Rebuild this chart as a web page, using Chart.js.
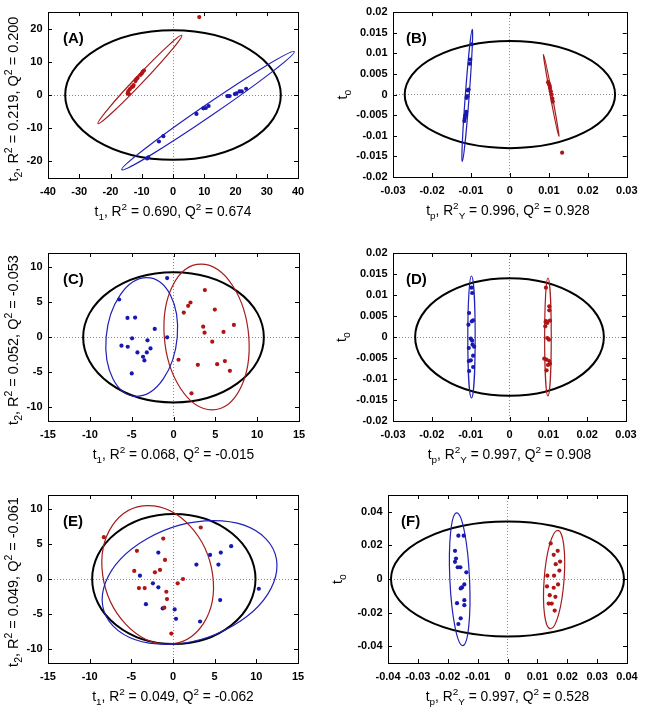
<!DOCTYPE html>
<html><head><meta charset="utf-8">
<script src="https://cdn.jsdelivr.net/npm/chart.js@4"></script>
<style>
body{margin:0;background:#fff;width:645px;height:713px;position:relative;overflow:hidden}
canvas{position:absolute}
</style></head>
<body>
<canvas id="cA"></canvas><canvas id="cB"></canvas><canvas id="cC"></canvas>
<canvas id="cD"></canvas><canvas id="cE"></canvas><canvas id="cF"></canvas>
<script>
// ---------- DATA ----------
// Panel A (PCA scores)
const aRed = [[-14.5,0.5],[-14.3,1.2],[-14.1,0.3],[-13.8,1.8],[-13.2,2.4],[-12.8,2.6],[-12.6,3.0],[-12.0,4.2],[-11.7,4.8],[-11.3,5.2],[-10.4,6.1],[-10.0,6.5],[-9.7,7.0],[-9.3,7.4],[8.4,23.5]];
const aBlue = [[7.5,-5.7],[9.7,-4.0],[10.5,-3.9],[11.4,-3.3],[17.4,-0.3],[18.1,-0.3],[19.8,0.3],[20.3,0.5],[21.3,1.1],[22.0,1.1],[23.4,1.9],[-3.1,-12.4],[-4.5,-14.0],[-7.9,-18.8],[-8.3,-19.1]];
const aXTicks = [-40,-30,-20,-10,0,10,20,30,40];
const aYTicks = [-20,-10,0,10,20];
// ellipse = [centerX, centerY, semiDiameterU_x, U_y, conjugateV_x, V_y]
const aEllAll  = [0,0,34.5,0,0,19.5];
const aEllRed  = [-10.6,4.7,13.4,13.3,0.94,-0.81];
const aEllBlue = [11.2,-4.7,27.6,17.8,1.09,-1.48];

// Panel B (OPLS-DA scores)
const bRed = [[0.0098,0.0030],[0.0100,0.0026],[0.0102,0.0022],[0.0103,0.0016],[0.0105,0.0008],[0.0107,0.0],[0.0109,-0.0010],[0.0110,-0.0017],[0.0134,-0.0141]];
const bBlue = [[-0.0098,0.0122],[-0.0102,0.0085],[-0.0103,0.0075],[-0.0106,0.0012],[-0.0108,0.0010],[-0.0110,-0.0004],[-0.0111,-0.0008],[-0.0112,-0.0042],[-0.0113,-0.0048],[-0.0115,-0.0052],[-0.0116,-0.0058],[-0.0117,-0.0064]];
const bXTicks = [-0.03,-0.02,-0.01,0,0.01,0.02,0.03];
const bYTicks = [-0.02,-0.015,-0.01,-0.005,0,0.005,0.01,0.015,0.02];
const bEllAll  = [0,0,0.027,0,0,0.013];
const bEllRed  = [0.0106,-0.0002,-0.00197,0.00992,0.00025,0];
const bEllBlue = [-0.01094,-0.0002,0.00128,0.016,0.0005,0];

// Panel C
const cRed = [[3.75,6.70],[2.03,4.93],[1.75,4.45],[1.23,3.49],[4.94,3.92],[3.55,1.48],[3.71,0.62],[7.22,1.72],[5.98,0.72],[4.63,-0.67],[0.60,-3.25],[2.91,-3.97],[5.22,-3.88],[6.14,-3.44],[6.74,-4.83],[2.15,-8.04]];
const cBlue = [[-6.5,5.36],[-5.5,2.73],[-4.59,2.78],[-2.24,1.15],[-0.76,8.42],[-0.76,-0.05],[-4.95,-0.19],[-6.22,-1.24],[-5.47,-1.39],[-3.11,-0.48],[-4.31,-2.20],[-2.75,-1.63],[-3.19,-2.20],[-3.64,-2.82],[-3.48,-3.35],[-4.99,-5.21]];
const cXTicks = [-15,-10,-5,0,5,10,15];
const cYTicks = [-10,-5,0,5,10];
const cEllAll  = [0,-0.05,10.8,0,0,9.3];
const cEllRed  = [3.95,0,-0.66,10.4,5.05,0];
const cEllBlue = [-3.8,0,0.6,8.47,4.25,0];

// Panel D
const dRed = [[0.00938,0.01175],[0.01024,0.0073],[0.01024,0.00635],[0.00938,0.00381],[0.01041,0.00389],[0.00972,0.00333],[0.00921,0.00254],[0.0093,0.0036],[0.00972,-0.00024],[0.01016,-0.00063],[0.00895,-0.00516],[0.00955,-0.0054],[0.01024,-0.00571],[0.01041,-0.00635],[0.0099,-0.00667],[0.00955,-0.00794]];
const dBlue = [[-0.00979,0.01175],[-0.00962,0.01048],[-0.0104,0.00571],[-0.00937,0.00397],[-0.0097,0.00373],[-0.01057,0.00294],[-0.00996,-0.0004],[-0.00962,-0.00087],[-0.00953,-0.00183],[-0.00911,-0.0023],[-0.01048,-0.00262],[-0.00937,-0.00444],[-0.00996,-0.00556],[-0.01048,-0.00571],[-0.00937,-0.00714],[-0.0104,-0.0081]];
const dXTicks = [-0.03,-0.02,-0.01,0,0.01,0.02,0.03];
const dYTicks = [-0.02,-0.015,-0.01,-0.005,0,0.005,0.01,0.015,0.02];
const dEllAll  = [0,0,0.0243,0,0,0.014];
const dEllRed  = [0.0099,0,0,0.01405,0.00085,0];
const dEllBlue = [-0.00979,0,0,0.01452,0.00095,0];

// Panel E
const eRed = [[-8.3,5.98],[-1.17,5.78],[3.33,7.36],[-4.33,4.02],[-0.96,2.73],[-4.65,1.15],[-2.17,0.96],[-1.56,1.29],[1.2,0],[0.56,-0.62],[-4.09,-1.29],[-3.4,-1.29],[-0.8,-1.82],[-0.72,-2.87],[-1.04,-4.1],[-0.2,-7.8]];
const eBlue = [[6.98,4.69],[5.74,3.78],[4.45,3.44],[2.81,2.06],[5.45,2.06],[-1.76,3.78],[-3.97,0.48],[-2.41,-0.62],[-1.76,-1.19],[5.66,-3.01],[-3.25,-3.59],[-1.24,-4.2],[0.2,-4.35],[0.36,-5.69],[3.25,-6.07],[10.3,-1.39]];
const eXTicks = [-15,-10,-5,0,5,10,15];
const eYTicks = [-10,-5,0,5,10];
const eEllAll  = [0.1,0,9.8,0,0,9.3];
const eEllRed  = [-1.84,0.58,-1.13,9.9,6.6,0];
const eEllBlue = [1.99,-0.5,2.87,8.83,10.09,0];

// Panel F
const fRed = [[0.01446,0.0212],[0.01681,0.0168],[0.01547,0.0144],[0.01614,0.0088],[0.01759,0.0104],[0.01737,0.005],[0.01335,0.002],[0.01558,0.002],[0.01692,-0.0032],[0.01323,-0.0044],[0.01547,-0.0052],[0.01413,-0.0096],[0.01603,-0.0106],[0.01379,-0.0146],[0.0148,-0.0146],[0.0158,-0.0188]];
const fBlue = [[-0.01645,0.0258],[-0.01467,0.0258],[-0.01757,0.0168],[-0.01724,0.0122],[-0.01757,0.0102],[-0.01667,0.007],[-0.01578,0.007],[-0.01378,0.004],[-0.01445,-0.0032],[-0.01523,-0.005],[-0.01567,-0.0056],[-0.01445,-0.0126],[-0.01445,-0.0156],[-0.0169,-0.0144],[-0.01567,-0.0234],[-0.01645,-0.0268]];
const fXTicks = [-0.04,-0.03,-0.02,-0.01,0,0.01,0.02,0.03,0.04];
const fYTicks = [-0.04,-0.02,0,0.02,0.04];
const fEllAll  = [0,0,0.039,0,0,0.0342];
const fEllRed  = [0.0156,-0.0003,0.0012,0.0293,0.00334,0];
const fEllBlue = [-0.016,-0.0001,-0.001,0.0395,0.0033,0];

// Labels (gnuplot-style enhanced text: _{sub}, ^{sup})
const panelLabels = ['(A)','(B)','(C)','(D)','(E)','(F)'];
const xTitles = [
  't_{1}, R^{2} = 0.690, Q^{2} = 0.674',
  't_{p}, R^{2}_{Y} = 0.996, Q^{2} = 0.928',
  't_{1}, R^{2} = 0.068, Q^{2} = -0.015',
  't_{p}, R^{2}_{Y} = 0.997, Q^{2} = 0.908',
  't_{1}, R^{2} = 0.049, Q^{2} = -0.062',
  't_{p}, R^{2}_{Y} = 0.997, Q^{2} = 0.528'];
const yTitles = [
  't_{2}, R^{2} = 0.219, Q^{2} = 0.200',
  't_{o}',
  't_{2}, R^{2} = 0.052, Q^{2} = -0.053',
  't_{o}',
  't_{2}, R^{2} = 0.049, Q^{2} = -0.061',
  't_{o}'];

// ---------- STYLE / LAYOUT ----------
const RED = '#b01414', BLUE = '#1818b0';
const RED_L = '#a51c1c', BLUE_L = '#2020b8';
const FONT = '"Liberation Sans", Arial, Helvetica, sans-serif';

function parseRich(s){
  const runs=[]; let i=0, buf='';
  while(i<s.length){
    const c=s[i];
    if((c==='_'||c==='^') && s[i+1]==='{'){
      if(buf){runs.push([buf,0]);buf='';}
      const j=s.indexOf('}',i);
      runs.push([s.slice(i+2,j), c==='_'?1:-1]);
      i=j+1;
    } else {buf+=c;i++;}
  }
  if(buf) runs.push([buf,0]);
  return runs;
}
function drawRich(ctx, str, size){
  const runs=parseRich(str), small=size*0.72;
  let w=0; const ws=[];
  runs.forEach(([t,k])=>{ctx.font=(k?small:size)+'px '+FONT; const m=ctx.measureText(t).width; ws.push(m); w+=m;});
  let x=-w/2;
  ctx.textBaseline='alphabetic'; ctx.textAlign='left'; ctx.fillStyle='#000';
  runs.forEach(([t,k],i)=>{
    ctx.font=(k?small:size)+'px '+FONT;
    const dy = k===1 ? size*0.3 : (k===-1 ? -size*0.4 : 0);
    ctx.fillText(t,x,dy); x+=ws[i];
  });
  return w;
}

const decor = {
  id:'decor',
  beforeDatasetsDraw(chart){
    const o=chart.options.plugins.decor, ctx=chart.ctx, xs=chart.scales.x, ys=chart.scales.y;
    o.ellipses.forEach(el=>{
      const [cx,cy,ux,uy,vx,vy]=el.d;
      const px=xs.getPixelForValue(cx), py=ys.getPixelForValue(cy);
      const Ux=xs.getPixelForValue(cx+ux)-px, Uy=ys.getPixelForValue(cy+uy)-py;
      const Vx=xs.getPixelForValue(cx+vx)-px, Vy=ys.getPixelForValue(cy+vy)-py;
      ctx.save();
      ctx.beginPath();
      ctx.save(); ctx.transform(Ux,Uy,Vx,Vy,px,py); ctx.moveTo(1,0); ctx.arc(0,0,1,0,Math.PI*2); ctx.restore();
      ctx.strokeStyle=el.color; ctx.lineWidth=el.width; ctx.stroke();
      ctx.restore();
    });
  },
  afterDraw(chart){
    const o=chart.options.plugins.decor, ctx=chart.ctx, a=chart.chartArea, xs=chart.scales.x, ys=chart.scales.y;
    ctx.save();
    ctx.strokeStyle='#000'; ctx.lineWidth=1;
    ctx.strokeRect(Math.round(a.left)+0.5, Math.round(a.top)+0.5, Math.round(a.right-a.left), Math.round(a.bottom-a.top));
    const L=4;
    ctx.beginPath();
    xs.ticks.forEach(t=>{const p=Math.round(xs.getPixelForValue(t.value))+0.5; ctx.moveTo(p,a.bottom); ctx.lineTo(p,a.bottom-L); ctx.moveTo(p,a.top); ctx.lineTo(p,a.top+L);});
    ys.ticks.forEach(t=>{const p=Math.round(ys.getPixelForValue(t.value))+0.5; ctx.moveTo(a.left,p); ctx.lineTo(a.left+L,p); ctx.moveTo(a.right,p); ctx.lineTo(a.right-L,p);});
    ctx.stroke();
    // panel label
    ctx.font='bold 15px '+FONT; ctx.fillStyle='#000'; ctx.textBaseline='alphabetic'; ctx.textAlign='left';
    ctx.fillText(o.label, a.left+o.labDx, a.top+31);
    // x title
    ctx.save(); ctx.translate((a.left+a.right)/2+o.xtDx, a.bottom+37.5); drawRich(ctx,o.xTitle,13.8); ctx.restore();
    // y title
    ctx.save(); ctx.translate(o.ytX, (a.top+a.bottom)/2+o.ytDy); ctx.rotate(-Math.PI/2); drawRich(ctx,o.yTitle,14.5); ctx.restore();
    ctx.restore();
  }
};

const panels = [
  {id:'cA',left:0,  top:0,  w:320,h:230,padT:11,padR:22,yW:48,xH:52,xMin:-40,xMax:40,yMin:-25,yMax:25,xT:aXTicks,yT:aYTicks,red:aRed,blue:aBlue,ell:[aEllAll,aEllRed,aEllBlue],xPad:7.5,xtDx:0,ytX:18,ytDy:4,labDx:15},
  {id:'cB',left:320,top:0,  w:325,h:230,padT:11,padR:18,yW:73,xH:53,xMin:-0.03,xMax:0.03,yMin:-0.02,yMax:0.02,xT:bXTicks,yT:bYTicks,red:bRed,blue:bBlue,ell:[bEllAll,bEllRed,bEllBlue],xPad:7.5,xtDx:-2,ytX:27,ytDy:0,labDx:13},
  {id:'cC',left:0,  top:230,w:320,h:240,padT:23,padR:21,yW:48,xH:49,xMin:-15,xMax:15,yMin:-12,yMax:12,xT:cXTicks,yT:cYTicks,red:cRed,blue:cBlue,ell:[cEllAll,cEllRed,cEllBlue],xPad:7,xtDx:0,ytX:18,ytDy:3,labDx:15},
  {id:'cD',left:320,top:230,w:325,h:240,padT:23,padR:19,yW:73,xH:49,xMin:-0.03,xMax:0.03,yMin:-0.02,yMax:0.02,xT:dXTicks,yT:dYTicks,red:dRed,blue:dBlue,ell:[dEllAll,dEllRed,dEllBlue],xPad:7,xtDx:0,ytX:26,ytDy:0,labDx:13},
  {id:'cE',left:0,  top:470,w:320,h:243,padT:25,padR:22,yW:48,xH:50,xMin:-15,xMax:15,yMin:-12,yMax:12,xT:eXTicks,yT:eYTicks,red:eRed,blue:eBlue,ell:[eEllAll,eEllRed,eEllBlue],xPad:7,xtDx:0,ytX:18,ytDy:3,labDx:15},
  {id:'cF',left:320,top:470,w:325,h:243,padT:25,padR:18,yW:68,xH:50,xMin:-0.04,xMax:0.04,yMin:-0.05,yMax:0.05,xT:fXTicks,yT:fYTicks,red:fRed,blue:fBlue,ell:[fEllAll,fEllRed,fEllBlue],xPad:7,xtDx:0,ytX:22,ytDy:0,labDx:13}
];

const fmt = v => String(+(+v).toFixed(4));

panels.forEach((p,i)=>{
  const cv=document.getElementById(p.id);
  cv.width=p.w; cv.height=p.h;
  cv.style.left=p.left+'px'; cv.style.top=p.top+'px';
  cv.style.width=p.w+'px'; cv.style.height=p.h+'px';
  const gridOpt = {
    color: c => (c.tick && Math.abs(c.tick.value)<1e-12) ? '#8a8a8a' : 'rgba(0,0,0,0)',
    drawTicks:false, lineWidth:1
  };
  new Chart(cv,{
    type:'scatter',
    data:{datasets:[
      {data:p.red.map(([x,y])=>({x,y})), backgroundColor:RED, borderWidth:0, pointRadius:2.1, pointHoverRadius:2.1},
      {data:p.blue.map(([x,y])=>({x,y})), backgroundColor:BLUE, borderWidth:0, pointRadius:2.1, pointHoverRadius:2.1}
    ]},
    options:{
      responsive:false, animation:false, devicePixelRatio:1,
      layout:{padding:{top:p.padT,right:p.padR,left:0,bottom:0}},
      plugins:{legend:{display:false},tooltip:{enabled:false},
        decor:{
          ellipses:[{d:p.ell[0],color:'#000',width:2},{d:p.ell[1],color:RED_L,width:1.2},{d:p.ell[2],color:BLUE_L,width:1.2}],
          label:panelLabels[i], xTitle:xTitles[i], yTitle:yTitles[i],
          xtDx:p.xtDx, ytX:p.ytX, ytDy:p.ytDy, labDx:p.labDx
        }},
      scales:{
        x:{type:'linear',min:p.xMin,max:p.xMax,
          afterBuildTicks:s=>{s.ticks=p.xT.map(v=>({value:v}));},
          afterFit:s=>{s.height=p.xH;},
          ticks:{callback:fmt,color:'#000',font:{family:FONT,size:11,weight:'bold'},padding:p.xPad,maxRotation:0,autoSkip:false},
          grid:gridOpt, border:{display:false,dash:[1,2]}},
        y:{type:'linear',min:p.yMin,max:p.yMax,
          afterBuildTicks:s=>{s.ticks=p.yT.map(v=>({value:v}));},
          afterFit:s=>{s.width=p.yW;},
          ticks:{callback:fmt,color:'#000',font:{family:FONT,size:11,weight:'bold'},padding:5.5,autoSkip:false},
          grid:gridOpt, border:{display:false,dash:[1,2]}}
      }
    },
    plugins:[decor]
  });
});
</script>
</body></html>
